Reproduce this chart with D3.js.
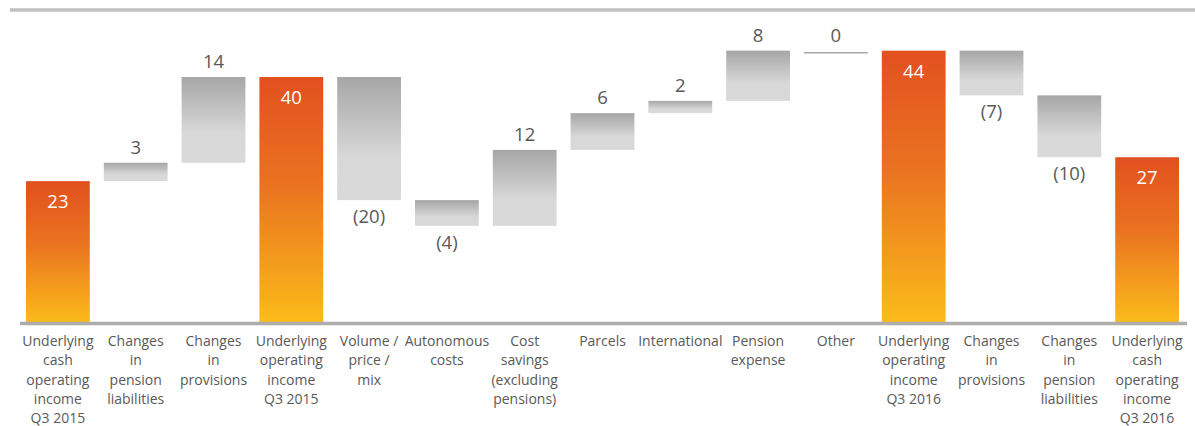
<!DOCTYPE html>
<html>
<head>
<meta charset="utf-8">
<script src="https://cdn.jsdelivr.net/npm/d3@7"></script>
<style>
  html, body { margin: 0; padding: 0; background: #fff; }
  svg { display: block; }
</style>
</head>
<body>
<svg id="chart" width="1195" height="426"></svg>
<script>
// ---- data ----
const categories = [
  "Underlying\ncash\noperating\nincome\nQ3 2015",
  "Changes\nin\npension\nliabilities",
  "Changes\nin\nprovisions",
  "Underlying\noperating\nincome\nQ3 2015",
  "Volume /\nprice /\nmix",
  "Autonomous\ncosts",
  "Cost\nsavings\n(excluding\npensions)",
  "Parcels",
  "International",
  "Pension\nexpense",
  "Other",
  "Underlying\noperating\nincome\nQ3 2016",
  "Changes\nin\nprovisions",
  "Changes\nin\npension\nliabilities",
  "Underlying\ncash\noperating\nincome\nQ3 2016"
];
// change per step (totals marked in isTotal; their value is the running sum)
const deltas = [23.0, 3.0, 14.0, 0, -20.1, -4.2, 12.4, 6.0, 2.0, 8.2, 0, 0, -7.3, -10.1, 0];
const isTotal = [true, false, false, true, false, false, false, false, false, false, false, true, false, false, true];
const valueLabels = ["23", "3", "14", "40", "(20)", "(4)", "12", "6", "2", "8", "0", "44", "(7)", "(10)", "27"];

// ---- build waterfall rows ----
let running = 0;
const rows = categories.map((c, i) => {
  let start, end;
  if (isTotal[i]) {
    if (i === 0) running = deltas[i];
    start = 0; end = running;
  } else {
    start = running; running += deltas[i]; end = running;
  }
  return { cat: c, i, start, end, total: isTotal[i], delta: deltas[i], label: valueLabels[i] };
});

const svg = d3.select("#chart");
const W = 1195, H = 426;

const x = d3.scaleBand().domain(d3.range(categories.length)).range([19, 1186]).paddingInner(0.18).paddingOuter(0.09);
const y = d3.scaleLinear().domain([0, 40]).range([322, 77]);

const defs = svg.append("defs");
const og = defs.append("linearGradient").attr("id", "orangeGrad").attr("x1", 0).attr("y1", 0).attr("x2", 0).attr("y2", 1);
og.append("stop").attr("offset", "0%").attr("stop-color", "#E2501F");
og.append("stop").attr("offset", "45%").attr("stop-color", "#EA7420");
og.append("stop").attr("offset", "100%").attr("stop-color", "#FBBB1A");
const gg = defs.append("linearGradient").attr("id", "grayGrad").attr("x1", 0).attr("y1", 0).attr("x2", 0).attr("y2", 1);
gg.append("stop").attr("offset", "0%").attr("stop-color", "#A6A6A6");
gg.append("stop").attr("offset", "65%").attr("stop-color", "#D8D8D8");
gg.append("stop").attr("offset", "100%").attr("stop-color", "#D9D9D9");

// top rule
svg.append("line").attr("x1", 10).attr("x2", W).attr("y1", 10).attr("y2", 10)
  .attr("stroke", "#C0C0C0").attr("stroke-width", 3.5);

// bars
const bars = svg.append("g");
rows.forEach(r => {
  const x0 = x(r.i), bw = x.bandwidth();
  const top = y(Math.max(r.start, r.end)), bot = y(Math.min(r.start, r.end));
  if (!r.total && r.delta === 0) {
    bars.append("line").attr("x1", x0).attr("x2", x0 + bw)
      .attr("y1", top + 2).attr("y2", top + 2)
      .attr("stroke", "#A6A6A6").attr("stroke-width", 1.5);
  } else {
    bars.append("rect").attr("x", x0).attr("y", top).attr("width", bw).attr("height", bot - top)
      .attr("fill", r.total ? "url(#orangeGrad)" : "url(#grayGrad)");
  }
});

// baseline
svg.append("line").attr("x1", 20).attr("x2", 1187).attr("y1", 323.5).attr("y2", 323.5)
  .attr("stroke", "#ADADAD").attr("stroke-width", 3.5);

// value labels
const vl = svg.append("g").attr("font-family", "'Open Sans', sans-serif").attr("font-size", 18.5).attr("text-anchor", "middle");
rows.forEach(r => {
  const cx = x(r.i) + x.bandwidth() / 2;
  const top = y(Math.max(r.start, r.end)), bot = y(Math.min(r.start, r.end));
  let ty, fill = "#595959";
  if (r.total) { ty = top + 27; fill = "#ffffff"; }
  else if (r.delta < 0) { ty = bot + 23; }
  else { ty = top - 9; }
  vl.append("text").attr("x", cx).attr("y", ty).attr("fill", fill).text(r.label);
});

// category labels
const cl = svg.append("g").attr("font-family", "'Open Sans', sans-serif").attr("font-size", 14)
  .attr("text-anchor", "middle").attr("fill", "#595959");
rows.forEach(r => {
  const cx = x(r.i) + x.bandwidth() / 2;
  const t = cl.append("text").attr("x", cx).attr("y", 346);
  r.cat.split("\n").forEach((line, k) => {
    t.append("tspan").attr("x", cx).attr("dy", k === 0 ? 0 : 19.3).text(line);
  });
});
</script>
</body>
</html>
